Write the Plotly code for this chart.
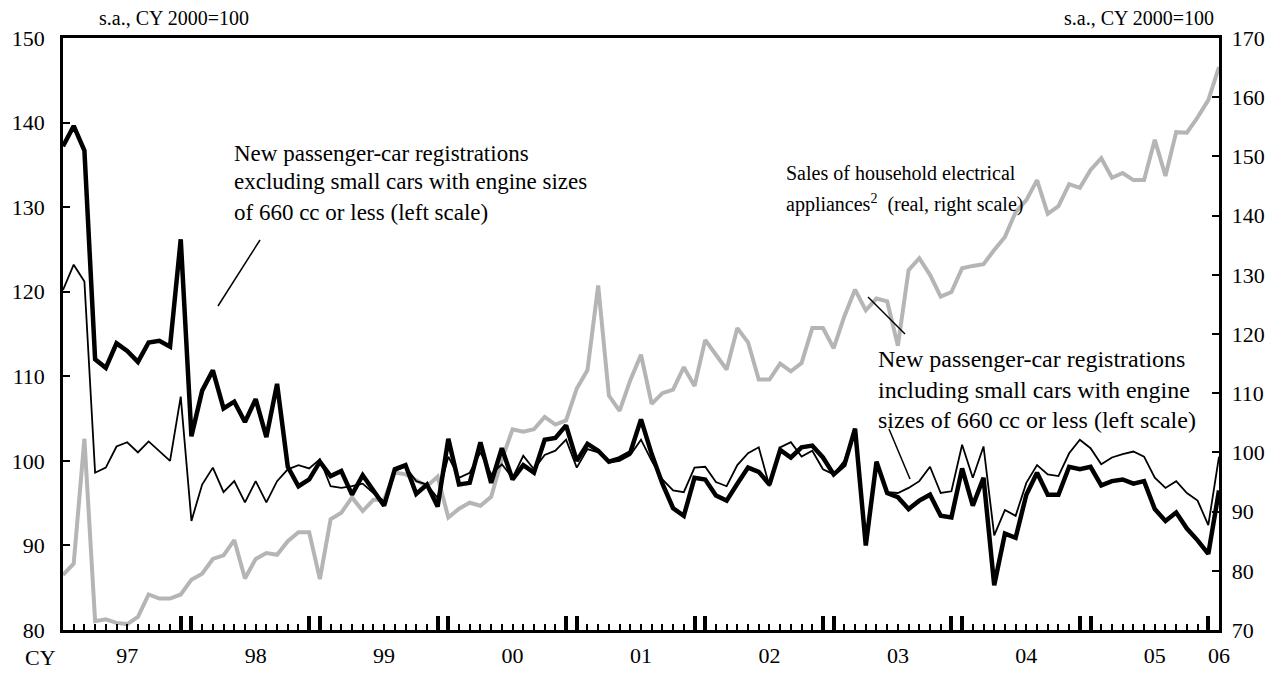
import plotly.graph_objects as go

# months from Jan 1997 (0) to Jan 2006 (108)
months = list(range(109))

# new passenger-car registrations excluding small cars (left scale)
excl_small = [
    137.2, 139.6, 136.7, 112.0, 111.0, 113.9, 113.0, 111.7, 114.0, 114.2, 113.5, 126.2,
    102.9, 108.3, 110.7, 106.2, 107.0, 104.6, 107.3, 102.8, 109.1, 99.3, 97.0, 97.8,
    99.9, 98.2, 98.8, 96.0, 98.3, 96.5, 94.7, 99.0, 99.5, 96.1, 97.2, 94.6,
    102.6, 97.2, 97.4, 102.2, 97.4, 101.5, 97.8, 99.5, 98.6, 102.5, 102.7, 104.2,
    100.0, 102.0, 101.2, 99.9, 100.3, 101.0, 104.9, 100.8, 97.3, 94.4, 93.5, 98.0,
    97.8, 95.9, 95.3, 97.3, 99.2, 98.7, 97.2, 101.3, 100.4, 101.6, 101.8, 100.4,
    98.4, 99.5, 103.8, 90.0, 99.9, 96.2, 95.7, 94.3, 95.3, 96.0, 93.5, 93.3,
    99.1, 94.7, 98.0, 85.3, 91.4, 90.9, 96.0, 98.6, 96.0, 96.0, 99.3, 99.0,
    99.3, 97.1, 97.6, 97.8, 97.3, 97.6, 94.3, 92.9, 93.9, 92.0, 90.6, 89.0,
    96.5,
]

# new passenger-car registrations including small cars (left scale)
incl_small = [
    120.2, 123.2, 121.2, 98.6, 99.2, 101.7, 102.2, 101.0, 102.3, 101.2, 100.0, 107.6,
    92.9, 97.2, 99.2, 96.3, 97.6, 95.1, 97.6, 95.1, 97.6, 99.0, 99.5, 99.1,
    100.2, 97.0, 96.8, 97.0, 97.3, 96.2, 95.2, 98.8, 99.3, 97.6, 97.2, 95.6,
    100.5, 98.0, 98.6, 101.0, 98.4, 99.6, 98.0, 100.6, 99.0, 100.7, 101.2, 102.5,
    99.2, 101.4, 101.0, 99.8, 100.0, 100.7, 102.5, 100.0, 97.8, 96.5, 96.3, 99.2,
    99.3, 97.5, 97.0, 99.5, 100.9, 101.6, 97.0, 101.6, 102.2, 100.5, 101.2, 99.0,
    98.4, 100.0, 103.8, 90.2, 99.9, 96.3, 96.2, 96.8, 97.6, 99.3, 96.2, 96.4,
    101.9, 98.0, 101.7, 91.2, 94.2, 93.5, 97.4, 99.5, 98.4, 98.2, 100.9, 102.5,
    101.5, 99.6, 100.4, 100.8, 101.1, 100.5, 98.0, 96.8, 97.6, 96.2, 95.3, 92.4,
    100.5,
]

# sales of household electrical appliances, real (right scale)
appliances = [
    79.3, 81.2, 102.3, 71.5, 71.8, 71.2, 71.0, 72.2, 76.0, 75.3, 75.3, 76.0,
    78.5, 79.5, 82.0, 82.6, 85.2, 78.7, 82.0, 83.0, 82.7, 85.0, 86.5, 86.5,
    78.6, 88.7, 89.8, 92.4, 90.1, 92.0, 92.0, 96.6, 96.3, 95.3, 94.3, 95.9,
    89.0, 90.5, 91.5, 91.0, 92.5, 98.8, 103.9, 103.5, 103.9, 106.0, 104.7, 105.4,
    110.8, 113.9, 128.2, 109.6, 107.0, 112.2, 116.5, 108.2, 110.0, 110.6, 114.4, 111.2,
    119.0, 116.5, 114.0, 121.0, 118.6, 112.3, 112.3, 115.0, 113.7, 115.1, 121.0, 121.0,
    117.6, 123.0, 127.5, 124.0, 126.0, 125.5, 118.0, 130.8, 132.8, 130.0, 126.3, 127.1,
    131.1, 131.5, 131.8, 134.2, 136.4, 140.6, 142.6, 146.0, 140.3, 141.6, 145.3, 144.7,
    147.7, 149.7, 146.4, 147.2, 146.0, 146.0, 152.8, 146.7, 154.1, 154.0, 156.6, 159.5,
    165.1,
]

year_labels = ["97", "98", "99", "00", "01", "02", "03", "04", "05", "06"]
year_label_pos = [6, 18, 30, 42, 54, 66, 78, 90, 102, 108]
# Dec / Jan pairs at each year boundary
boundary_ticks = []
for k in range(1, 10):
    boundary_ticks += [12 * k - 1, 12 * k]

FONT = "Liberation Serif"
NB = "\u00a0"

fig = go.Figure()

# grey series on the base axis so it sits behind the black lines
fig.add_trace(go.Scatter(x=months, y=appliances, mode="lines",
                         line=dict(color="#b5b5b5", width=4),
                         yaxis="y", xaxis="x", showlegend=False))
fig.add_trace(go.Scatter(x=months, y=incl_small, mode="lines",
                         line=dict(color="black", width=1.8),
                         yaxis="y2", xaxis="x", showlegend=False))
fig.add_trace(go.Scatter(x=months, y=excl_small, mode="lines",
                         line=dict(color="black", width=4.5),
                         yaxis="y2", xaxis="x", showlegend=False))
# carrier for the year labels axis
fig.add_trace(go.Scatter(x=[None], y=[None], xaxis="x2", yaxis="y",
                         showlegend=False, hoverinfo="skip"))

fig.update_layout(
    width=1268, height=676,
    margin=dict(l=55, r=57, t=30, b=54, autoexpand=False),
    paper_bgcolor="white", plot_bgcolor="white",
    font=dict(family=FONT, size=22, color="black"),
    xaxis=dict(
        range=[0, 108], tickmode="array", tickvals=boundary_ticks,
        ticks="inside", ticklen=14, tickwidth=3.5, tickcolor="black",
        showticklabels=False, showline=True, linewidth=2.5, linecolor="black",
        mirror=True, showgrid=False, zeroline=False, automargin=False,
        minor=dict(tickmode="linear", tick0=0, dtick=1, ticks="inside",
                   ticklen=6, tickwidth=1.5, tickcolor="black", showgrid=False),
    ),
    xaxis2=dict(
        range=[0, 108], overlaying="x", anchor="y", side="bottom",
        tickmode="array", tickvals=year_label_pos, ticktext=year_labels,
        ticks="", showline=False, showgrid=False, zeroline=False,
        automargin=False, ticklabelstandoff=10,
        tickfont=dict(family=FONT, size=22),
    ),
    yaxis=dict(
        range=[70, 170], dtick=10, side="right", tickprefix=NB,
        ticks="inside", ticklen=7, tickwidth=1.5, tickcolor="black",
        showline=True, linewidth=2.5, linecolor="black", automargin=False,
        showgrid=False, zeroline=False, tickfont=dict(family=FONT, size=22),
    ),
    yaxis2=dict(
        range=[80, 150], dtick=10, side="left", overlaying="y", anchor="x",
        ticksuffix=NB * 2, automargin=False,
        ticks="inside", ticklen=7, tickwidth=1.5, tickcolor="black",
        showline=True, linewidth=2.5, linecolor="black",
        showgrid=False, zeroline=False, tickfont=dict(family=FONT, size=22),
    ),
)

def px2paper(px, py):
    return (px - 63) / 1156, (630 - py) / 592

annots = [
    ("s.a., CY 2000=100", 97, 18, "left", 20),
    ("s.a., CY 2000=100", 1216, 18, "right", 20),
    ("CY", 40, 657, "center", 22),
    ("New passenger-car registrations", 232, 153, "left", 23),
    ("excluding small cars with engine sizes", 232, 182, "left", 23),
    ("of 660 cc or less (left scale)", 232, 212, "left", 23),
    ("Sales of household electrical", 784, 173, "left", 20),
    ("appliances<sup>2</sup>  (real, right scale)", 784, 204, "left", 20),
    ("New passenger-car registrations", 876, 359, "left", 24),
    ("including small cars with engine", 876, 390, "left", 24),
    ("sizes of 660 cc or less (left scale)", 876, 420, "left", 24),
]
for text, ax_, ay_, anchor, size in annots:
    px_, py_ = px2paper(ax_, ay_)
    fig.add_annotation(text=text, x=px_, y=py_, xref="paper", yref="paper",
                       xanchor=anchor, yanchor="middle", showarrow=False,
                       font=dict(family=FONT, size=size, color="black"))

leaders = [((260, 240), (218, 306)), ((868, 297), (905, 334)), ((889, 429), (910, 479))]
for (x0, y0), (x1, y1) in leaders:
    a0, b0 = px2paper(x0, y0)
    a1, b1 = px2paper(x1, y1)
    fig.add_shape(type="line", xref="paper", yref="paper", x0=a0, y0=b0, x1=a1, y1=b1,
                  line=dict(color="black", width=1.5))

fig.write_html("out.html")
